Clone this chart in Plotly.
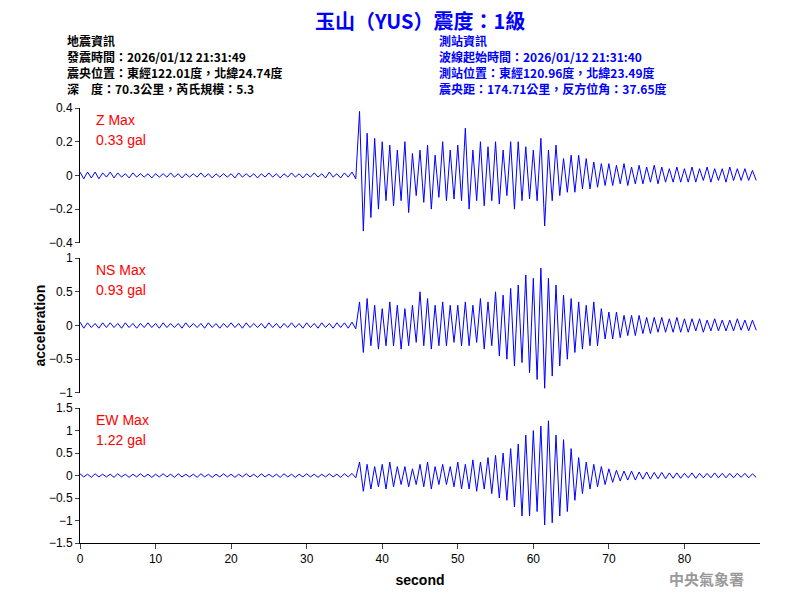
import plotly.graph_objects as go
from plotly.subplots import make_subplots

# per-second upper / lower envelope (0..89 s)
z_hi = [0.02, 0.02, 0.02, 0.015, 0.02, 0.015, 0.01, 0.015, 0.01, 0.01,
        0.01, 0.01, 0.015, 0.01, 0.01, 0.01, 0.015, 0.01, 0.01, 0.01,
        0.01, 0.015, 0.01, 0.01, 0.01, 0.015, 0.01, 0.01, 0.015, 0.01,
        0.01, 0.015, 0.01, 0.02, 0.01, 0.015, 0.02,
        0.38, 0.25, 0.22, 0.2, 0.18, 0.15, 0.2, 0.13, 0.15, 0.18, 0.12, 0.2, 0.15,
        0.18, 0.28, 0.15, 0.2, 0.17, 0.2, 0.15, 0.2, 0.2, 0.17, 0.15, 0.22,
        0.15, 0.18, 0.1, 0.12, 0.12, 0.1, 0.08, 0.07,
        0.07, 0.06, 0.07, 0.05, 0.06, 0.05, 0.06, 0.05, 0.04, 0.05,
        0.04, 0.05, 0.04, 0.05, 0.04, 0.04, 0.05, 0.04, 0.04, 0.03]
z_lo = [-0.02, -0.015, -0.02, -0.01, -0.015, -0.01, -0.015, -0.01, -0.01, -0.015,
        -0.01, -0.01, -0.01, -0.015, -0.01, -0.01, -0.01, -0.015, -0.01, -0.01,
        -0.015, -0.01, -0.01, -0.015, -0.01, -0.01, -0.015, -0.01, -0.01, -0.015,
        -0.01, -0.01, -0.015, -0.01, -0.015, -0.01, -0.02,
        -0.33, -0.25, -0.2, -0.15, -0.18, -0.15, -0.22, -0.12, -0.16, -0.2, -0.13, -0.15, -0.14,
        -0.15, -0.2, -0.15, -0.18, -0.15, -0.17, -0.12, -0.2, -0.15, -0.14, -0.15, -0.3,
        -0.15, -0.12, -0.1, -0.1, -0.08, -0.08, -0.07, -0.06,
        -0.06, -0.05, -0.06, -0.05, -0.05, -0.04, -0.05, -0.04, -0.04, -0.04,
        -0.04, -0.04, -0.03, -0.04, -0.03, -0.04, -0.03, -0.03, -0.03, -0.03]

ns_hi = [0.05, 0.04, 0.03, 0.04, 0.04, 0.03, 0.04, 0.03, 0.03, 0.04,
         0.03, 0.04, 0.03, 0.03, 0.04, 0.03, 0.03, 0.04, 0.03, 0.03,
         0.04, 0.03, 0.04, 0.03, 0.03, 0.04, 0.03, 0.03, 0.04, 0.03,
         0.04, 0.03, 0.04, 0.03, 0.04, 0.04, 0.05,
         0.35, 0.4, 0.3, 0.25, 0.35, 0.3, 0.25, 0.3, 0.5, 0.4, 0.3, 0.35, 0.3,
         0.3, 0.35, 0.3, 0.4, 0.35, 0.5, 0.45, 0.55, 0.6, 0.75, 0.7, 0.85,
         0.7, 0.6, 0.45, 0.4, 0.35, 0.3, 0.35, 0.25,
         0.2, 0.2, 0.15, 0.15, 0.15, 0.12, 0.12, 0.12, 0.1, 0.12,
         0.1, 0.1, 0.1, 0.08, 0.1, 0.08, 0.08, 0.1, 0.08, 0.08]
ns_lo = [-0.04, -0.03, -0.04, -0.03, -0.03, -0.04, -0.03, -0.04, -0.03, -0.03,
         -0.04, -0.03, -0.03, -0.04, -0.03, -0.03, -0.04, -0.03, -0.04, -0.03,
         -0.03, -0.04, -0.03, -0.03, -0.04, -0.03, -0.04, -0.03, -0.03, -0.04,
         -0.03, -0.04, -0.03, -0.04, -0.03, -0.04, -0.05,
         -0.4, -0.3, -0.35, -0.3, -0.3, -0.35, -0.3, -0.25, -0.3, -0.35, -0.3, -0.3, -0.25,
         -0.3, -0.3, -0.25, -0.35, -0.3, -0.45, -0.5, -0.6, -0.55, -0.7, -0.8, -0.93,
         -0.75, -0.6, -0.5, -0.4, -0.35, -0.3, -0.3, -0.2,
         -0.2, -0.18, -0.15, -0.15, -0.12, -0.12, -0.1, -0.1, -0.1, -0.1,
         -0.1, -0.08, -0.1, -0.08, -0.08, -0.08, -0.08, -0.07, -0.08, -0.07]

ew_hi = [0.04, 0.03, 0.04, 0.03, 0.03, 0.04, 0.03, 0.03, 0.04, 0.03,
         0.03, 0.04, 0.03, 0.04, 0.03, 0.03, 0.04, 0.03, 0.03, 0.04,
         0.03, 0.03, 0.04, 0.03, 0.04, 0.03, 0.03, 0.04, 0.03, 0.03,
         0.04, 0.03, 0.03, 0.04, 0.03, 0.04, 0.05,
         0.3, 0.25, 0.2, 0.25, 0.3, 0.2, 0.2, 0.15, 0.25, 0.3, 0.2, 0.25, 0.2,
         0.3, 0.25, 0.35, 0.3, 0.4, 0.45, 0.5, 0.6, 0.7, 0.9, 1.0, 1.1,
         1.22, 0.9, 0.8, 0.6, 0.4, 0.3, 0.25, 0.2,
         0.15, 0.12, 0.1, 0.1, 0.08, 0.08, 0.07, 0.07, 0.06, 0.06,
         0.05, 0.06, 0.05, 0.05, 0.06, 0.05, 0.05, 0.05, 0.05, 0.04]
ew_lo = [-0.03, -0.04, -0.03, -0.03, -0.04, -0.03, -0.04, -0.03, -0.03, -0.04,
         -0.03, -0.03, -0.04, -0.03, -0.03, -0.04, -0.03, -0.04, -0.03, -0.03,
         -0.04, -0.03, -0.03, -0.04, -0.03, -0.03, -0.04, -0.03, -0.04, -0.03,
         -0.03, -0.04, -0.03, -0.03, -0.04, -0.03, -0.05,
         -0.35, -0.3, -0.25, -0.3, -0.25, -0.2, -0.25, -0.2, -0.25, -0.3, -0.2, -0.2, -0.25,
         -0.3, -0.3, -0.35, -0.3, -0.4, -0.5, -0.55, -0.7, -0.9, -0.9, -0.8, -1.1,
         -1.05, -0.9, -0.8, -0.55, -0.4, -0.3, -0.25, -0.2,
         -0.15, -0.12, -0.1, -0.1, -0.08, -0.08, -0.07, -0.07, -0.06, -0.06,
         -0.05, -0.06, -0.05, -0.05, -0.05, -0.05, -0.05, -0.04, -0.05, -0.04]

components = ["Z Max", "NS Max", "EW Max"]
max_gal = ["0.33 gal", "0.93 gal", "1.22 gal"]
y_ranges = [[-0.4, 0.4], [-1, 1], [-1.5, 1.5]]
y_ticks = [[-0.4, -0.2, 0, 0.2, 0.4], [-1, -0.5, 0, 0.5, 1], [-1.5, -1, -0.5, 0, 0.5, 1, 1.5]]
x_ticks = [0, 10, 20, 30, 40, 50, 60, 70, 80]

left_info = ["地震資訊", "發震時間：2026/01/12 21:31:49",
             "震央位置：東經122.01度，北緯24.74度", "深　度：70.3公里，芮氏規模：5.3"]
right_info = ["測站資訊", "波線起始時間：2026/01/12 21:31:40",
              "測站位置：東經120.96度，北緯23.49度", "震央距：174.71公里，反方位角：37.65度"]

CJK = "Noto Sans CJK TC"
fig = make_subplots(rows=3, cols=1, vertical_spacing=0.035)

for i, (hi, lo) in enumerate([(z_hi, z_lo), (ns_hi, ns_lo), (ew_hi, ew_lo)]):
    xs, ys = [], []
    for t in range(len(hi)):
        xs += [t, t + 0.5]
        ys += [hi[t], lo[t]]
    fig.add_trace(go.Scatter(x=xs, y=ys, mode="lines", line=dict(color="#0000ff", width=1),
                             showlegend=False), row=i + 1, col=1)
    fig.update_yaxes(range=y_ranges[i], tickvals=y_ticks[i], showgrid=False, zeroline=False,
                     showline=True, linecolor="black", ticks="outside", ticklen=4,
                     automargin=False, row=i + 1, col=1)
    fig.update_xaxes(range=[0, 90], tickvals=x_ticks, showgrid=False, zeroline=False,
                     showline=(i == 2), linecolor="black", ticks="outside" if i == 2 else "",
                     showticklabels=(i == 2), automargin=False, row=i + 1, col=1)
    dom = fig.layout["yaxis" + ("" if i == 0 else str(i + 1))].domain
    fig.add_annotation(x=0.02, y=dom[1] - 0.005, xref="paper", yref="paper", text=components[i],
                       showarrow=False, xanchor="left", yanchor="top",
                       font=dict(color="red", size=14))
    fig.add_annotation(x=0.02, y=dom[1] - 0.05, xref="paper", yref="paper", text=max_gal[i],
                       showarrow=False, xanchor="left", yanchor="top",
                       font=dict(color="red", size=14))

fig.update_xaxes(title_text="<b>second</b>", title_standoff=9, row=3, col=1)

fig.add_annotation(x=0.5, y=1.24, xref="paper", yref="paper", showarrow=False,
                   text="<b>玉山（YUS）震度：1級</b>", font=dict(family=CJK, size=20, color="#0000ff"))
for k, (a, b) in enumerate(zip(left_info, right_info)):
    yy = 1.179 - k * 0.037
    fig.add_annotation(x=-0.022, y=yy, xref="paper", yref="paper", text="<b>" + a + "</b>",
                       showarrow=False, xanchor="left",
                       font=dict(family=CJK, size=12, color="black"))
    fig.add_annotation(x=0.525, y=yy, xref="paper", yref="paper", text="<b>" + b + "</b>",
                       showarrow=False, xanchor="left",
                       font=dict(family=CJK, size=12, color="#0000ff"))
fig.add_annotation(x=-0.075, y=0.5, xref="paper", yref="paper", text="<b>acceleration</b>",
                   textangle=-90, showarrow=False, font=dict(size=14))
fig.add_annotation(x=0.98, y=-0.11, xref="paper", yref="paper", text="<b>中央氣象署</b>",
                   showarrow=False, xanchor="right",
                   font=dict(family=CJK, size=15, color="#999999"))

# page body adds an 8px offset, so the figure is drawn slightly smaller
fig.update_layout(width=792, height=592, plot_bgcolor="white", paper_bgcolor="white",
                  margin=dict(l=72, r=40, t=100, b=57),
                  font=dict(family="Liberation Sans", size=12, color="black"))
fig.write_html("out.html")
